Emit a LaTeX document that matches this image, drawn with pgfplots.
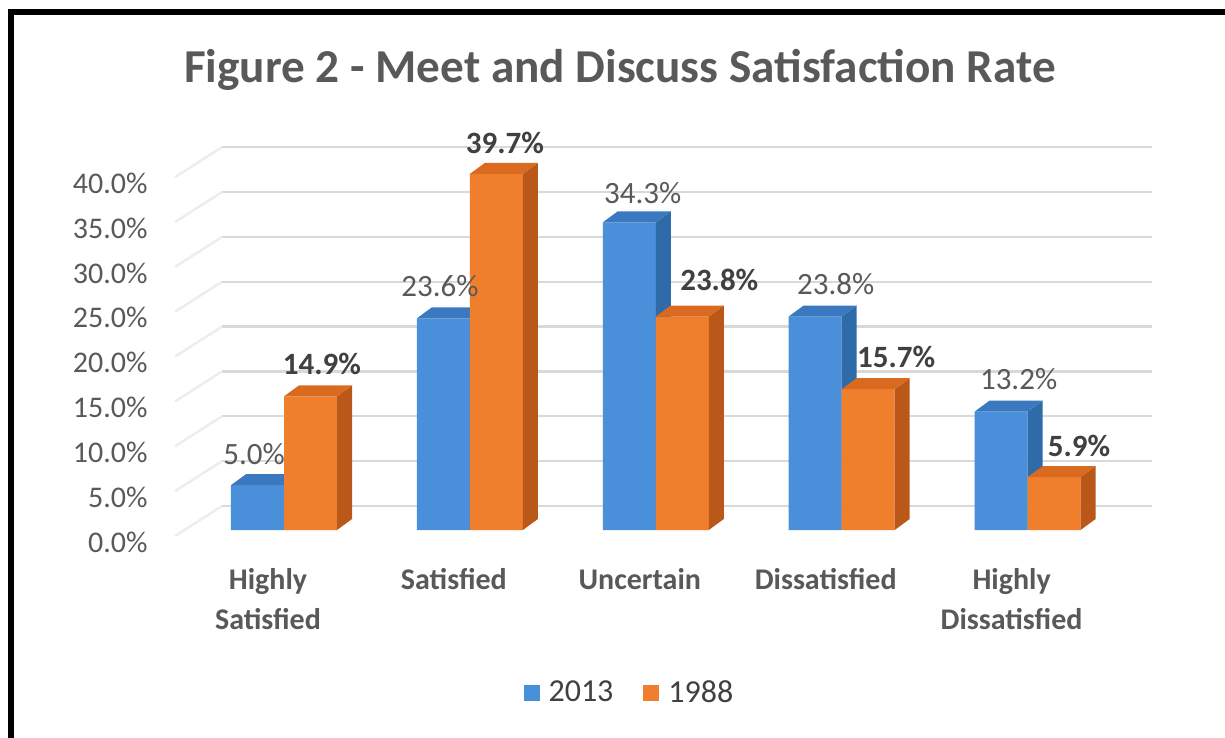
\documentclass[border=0pt]{standalone}
\usepackage{fontspec}
\setmainfont{Carlito}
\usepackage{pgfplots}
\pgfplotsset{compat=1.18}
\usepackage{pgfplotstable}

\definecolor{txt}{HTML}{595959}
\definecolor{txtd}{HTML}{404040}
\definecolor{gridc}{HTML}{D9D9D9}
\definecolor{sidec}{HTML}{EDEDED}
\definecolor{blueF}{HTML}{4A8FD9}
\definecolor{blueS}{HTML}{2E6BA8}
\definecolor{blueT}{HTML}{3A78C0}
\definecolor{orangeF}{HTML}{F07F2D}
\definecolor{orangeS}{HTML}{BA581A}
\definecolor{orangeT}{HTML}{DA6A1F}

% x = category index, y = value (%), lx/ly = label offset (px)
\pgfplotstableread{
x y lx ly
0 5.0 -3.5 30
1 23.6 -3.5 31
2 34.3 13.5 28
3 23.8 20.5 31
4 13.2 17.5 31
}\bluetab
\pgfplotstableread{
x y lx ly
0 14.9 11.5 31
1 39.7 8.5 30
2 23.8 37 35
3 15.7 28 31
4 5.9 25 30
}\orangetab

\def\bw{0.2851}
\def\ddx{0.0807}
\def\ddy{1.226}

% side and top faces of the 3D bars, built from the table values
\newcommand\faces[4]{%
  \pgfplotsforeachungrouped \i in {0,...,4}{%
    \pgfplotstablegetelem{\i}{y}\of#1%
    \pgfmathsetmacro\v{\pgfplotsretval}%
    \pgfmathsetmacro\xl{\i+#2}%
    \pgfmathsetmacro\xr{\xl+\bw}%
    \pgfmathsetmacro\xrr{\xr+\ddx}%
    \pgfmathsetmacro\xll{\xl+\ddx}%
    \pgfmathsetmacro\vt{\v+\ddy}%
    \edef\tmp{%
      \noexpand\addplot[fill=#3,draw=none,forget plot] coordinates {(\xr,0) (\xrr,\ddy) (\xrr,\vt) (\xr,\v)} -- cycle;
      \noexpand\addplot[fill=#4,draw=none,forget plot] coordinates {(\xl,\v) (\xll,\vt) (\xrr,\vt) (\xr,\v)} -- cycle;
    }\tmp
  }%
}

\begin{document}
\begin{tikzpicture}
\useasboundingbox (0,0) rectangle (612.5pt,369pt);
\fill[white] (0,0) rectangle (612.5pt,369pt);
% frame
\fill[black] (4pt,361.5pt) rectangle (612.5pt,364.5pt);
\fill[black] (4pt,0pt) rectangle (7pt,364.5pt);

% back wall with gridlines
\begin{axis}[
  at={(111pt,0pt)}, anchor=south west,
  width=465pt, height=369pt, scale only axis,
  xmin=0, xmax=1, ymin=-25.864, ymax=56.41,
  axis line style={draw=none}, major tick length=0pt,
  xtick=\empty, ytick={0,5,...,40}, yticklabels={},
  ymajorgrids, grid style={gridc, line width=1.2pt},
  clip=false,
]
\pgfplotsforeachungrouped \g in {0,5,...,40}{%
  \pgfmathsetmacro\gb{\g-3.34}%
  \edef\tmp{\noexpand\addplot[sidec, line width=1.2pt, forget plot] coordinates {(0,\g) (-0.0505,\gb)};}\tmp
}
\end{axis}

% front plane: bars
\begin{axis}[
  at={(0pt,0pt)}, anchor=south west,
  width=612.5pt, height=369pt, scale only axis,
  xmin=-1.5277, xmax=5.0619, ymin=-23.188, ymax=59.086,
  axis line style={draw=none}, major tick length=0pt,
  clip=false,
  /pgf/number format/assume math mode=true,
  ytick={0,5,...,40},
  yticklabel={\pgfmathprintnumber[fixed,fixed zerofill,precision=1]{\tick}\%},
  yticklabel style={anchor=east, inner sep=0pt, xshift=74pt, yshift=-6pt,
    font=\fontsize{15}{18}\selectfont, text=txt},
  xtick={0,...,4},
  xticklabels={{Highly\\[1.5pt]Satisfied},Satisfied,Uncertain,Dissatisfied,{Highly\\[1.5pt]Dissatisfied}},
  xticklabel style={align=center, anchor=north, inner sep=0pt, yshift=85pt, xshift=-8pt,
    font=\bfseries\fontsize{15}{18.5}\selectfont, text=txt},
  title={Figure 2 - Meet and Discuss Satisfaction Rate},
  title style={at={(0.5061,0.8889)}, anchor=base, inner sep=0pt, yshift=-6.5pt,
    font=\bfseries\fontsize{23.6}{28}\selectfont, text=txt},
  legend style={at={(0.513,0.061)}, anchor=center, draw=none, fill=none,
    legend columns=2, font=\fontsize{16}{19}\selectfont, text=txtd,
    /tikz/every odd column/.append style={column sep=4.5pt},
    /tikz/every even column/.append style={column sep=15pt},
    nodes={inner sep=0pt}},
]
\addplot[ybar, bar width=26.5pt, bar shift=-13.25pt, fill=blueF, draw=none,
  legend image code/.code={\fill[blueF] (0pt,-4pt) rectangle (8pt,4pt);}]
  table[x=x,y=y] {\bluetab};
\addlegendentry{2013}
\faces{\bluetab}{-\bw}{blueS}{blueT}
\addplot[ybar, bar width=26.5pt, bar shift=13.25pt, fill=orangeF, draw=none,
  legend image code/.code={\fill[orangeF] (0pt,-4pt) rectangle (8pt,4pt);}]
  table[x=x,y=y] {\orangetab};
\addlegendentry{1988}
\faces{\orangetab}{0}{orangeS}{orangeT}

% value labels on top
\addplot[ybar, bar width=26.5pt, bar shift=-13.25pt, draw=none, fill=none, forget plot,
  visualization depends on={\thisrow{lx} \as \lx},
  visualization depends on={\thisrow{ly} \as \ly},
  nodes near coords={\pgfmathprintnumber[fixed,fixed zerofill,precision=1]{\pgfplotspointmeta}\%},
  every node near coord/.append style={anchor=south, inner sep=0pt,
    xshift=(\lx-26.5)*0.5pt, yshift=(\ly-10)*0.5pt,
    font=\fontsize{15.5}{18}\selectfont, text=txt}]
  table[x=x,y=y] {\bluetab};
\addplot[ybar, bar width=26.5pt, bar shift=13.25pt, draw=none, fill=none, forget plot,
  visualization depends on={\thisrow{lx} \as \lx},
  visualization depends on={\thisrow{ly} \as \ly},
  nodes near coords={\pgfmathprintnumber[fixed,fixed zerofill,precision=1]{\pgfplotspointmeta}\%},
  every node near coord/.append style={anchor=south, inner sep=0pt,
    xshift=(\lx+26.5)*0.5pt, yshift=(\ly-10)*0.5pt,
    font=\bfseries\fontsize{15.5}{18}\selectfont, text=txtd}]
  table[x=x,y=y] {\orangetab};
\end{axis}
\end{tikzpicture}
\end{document}
